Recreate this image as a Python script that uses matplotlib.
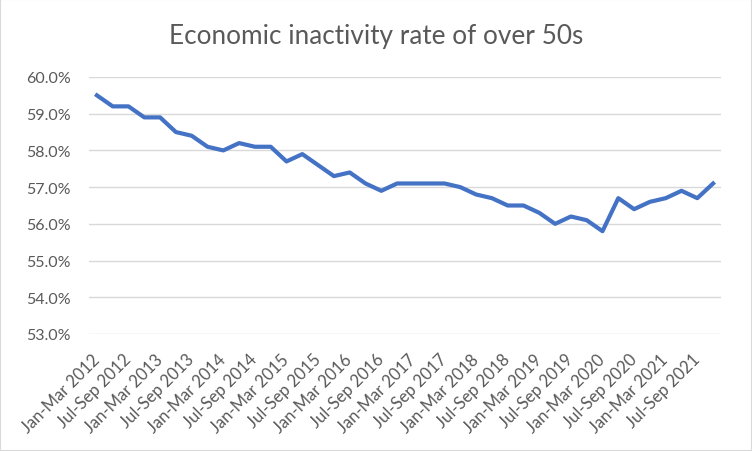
import matplotlib.pyplot as plt
from matplotlib.patches import Rectangle
from matplotlib.ticker import PercentFormatter

plt.rcParams["font.family"] = ["Lato", "DejaVu Sans"]

years = list(range(2012, 2022))
quarter_names = ["Jan-Mar", "Apr-Jun", "Jul-Sep", "Oct-Dec"]
quarters = [f"{q} {y}" for y in years for q in quarter_names]

rate = [59.5, 59.2, 59.2, 58.9, 58.9, 58.5, 58.4, 58.1,
        58.0, 58.2, 58.1, 58.1, 57.7, 57.9, 57.6, 57.3,
        57.4, 57.1, 56.9, 57.1, 57.1, 57.1, 57.1, 57.0,
        56.8, 56.7, 56.5, 56.5, 56.3, 56.0, 56.2, 56.1,
        55.8, 56.7, 56.4, 56.6, 56.7, 56.9, 56.7, 57.1]

grey = "#595959"

fig = plt.figure(figsize=(7.52, 4.52), dpi=100)
ax = fig.add_axes([89 / 752, 1 - 335 / 452, (721 - 89) / 752, (335 - 78) / 452])

x = range(len(quarters))
ax.plot(x, rate, color="#4472C4", lw=3, solid_joinstyle="round", zorder=3)

ax.set_xlim(-0.5, len(quarters) - 0.5)
ax.set_ylim(53, 60)
ax.set_yticks(range(53, 61))
ax.yaxis.set_major_formatter(PercentFormatter(decimals=1))
ax.grid(axis="y", color="#D9D9D9", lw=1)
ax.set_axisbelow(True)
for s in ax.spines.values():
    s.set_visible(False)

ax.set_xticks(list(x)[::2])
ax.set_xticklabels(quarters[::2], rotation=45, ha="right", va="center",
                   rotation_mode="anchor")
ax.tick_params(length=0, colors=grey, labelsize=11.5)
ax.tick_params(axis="x", pad=16, labelsize=12)
ax.tick_params(axis="y", pad=13)

fig.text(0.5, 1 - 44 / 452, "Economic inactivity rate of over 50s",
         ha="center", va="baseline", fontsize=18.8, color=grey)

fig.patches.append(Rectangle((0, 0), 1, 1, transform=fig.transFigure,
                             fill=False, edgecolor="#D9D9D9", lw=1.5))

fig.savefig("out.png", dpi=100)
